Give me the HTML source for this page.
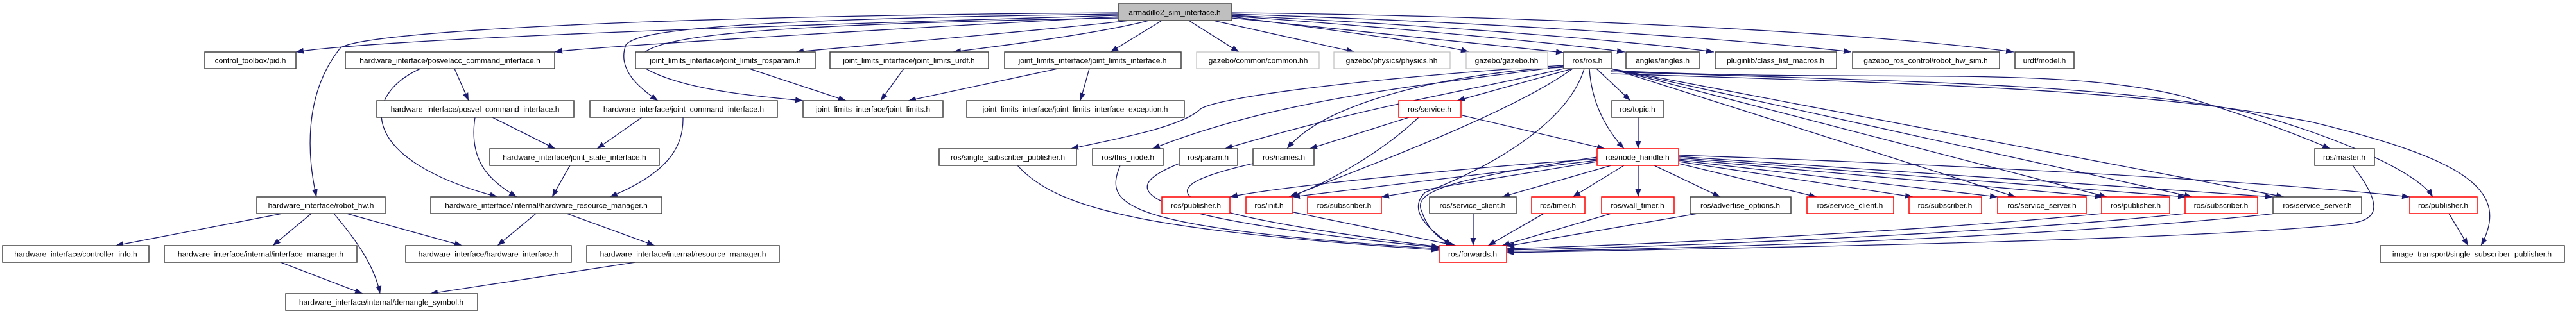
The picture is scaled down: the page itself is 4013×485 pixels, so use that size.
<!DOCTYPE html>
<html><head><meta charset="utf-8"><style>
html,body{margin:0;padding:0;background:#fff;}
svg{display:block;}
text{font-family:"Liberation Sans",sans-serif;font-size:12px;fill:#000;}
.n{fill:#fff;stroke:#404040;stroke-width:1.5;}
.r{fill:#fff;stroke:#f00;stroke-width:1.5;}
.g{fill:#fff;stroke:#bfbfbf;stroke-width:1.2;}
.e{fill:none;stroke:#191970;stroke-width:1.3;marker-end:url(#a);}
</style></head><body>
<svg width="4013" height="485" viewBox="0 0 4013 485" xmlns="http://www.w3.org/2000/svg">
<defs><marker id="a" markerUnits="userSpaceOnUse" markerWidth="12" markerHeight="9" refX="12" refY="4.5" orient="auto"><path d="M0,0 L12,4.5 L0,9 z" fill="#191970"/></marker></defs>
<g>
<path class="e" d="M1742,24 C1200,40 600,60 461,81"/>
<path class="e" d="M1742,26 C1300,50 900,75 864,81"/>
<path class="e" d="M1742,20 C1000,25 560,50 530,75 C470,150 480,250 493,307"/>
<path class="e" d="M1742,22 C1100,30 990,50 975,70 C960,110 1000,140 1025,157"/>
<path class="e" d="M1742,28 C1100,40 990,60 995,100 C1050,140 1180,150 1251,157"/>
<path class="e" d="M1760,32 C1600,50 1300,75 1240,81"/>
<path class="e" d="M1790,32 C1700,55 1530,75 1485,81"/>
<path class="e" d="M1810,32 L1730,81"/>
<path class="e" d="M1852,32 L1930,81"/>
<path class="e" d="M1890,32 L2110,81"/>
<path class="e" d="M1919,26 C2100,50 2250,70 2288,81"/>
<path class="e" d="M1919,28 L2436,82"/>
<path class="e" d="M1919,25 C2200,45 2450,70 2531,81"/>
<path class="e" d="M1919,24 C2250,40 2550,65 2670,81"/>
<path class="e" d="M1919,22 C2350,35 2750,65 2884,81"/>
<path class="e" d="M1919,20 C2400,25 2900,50 3137,81"/>
<path class="e" d="M2450,107 L2270,157"/>
<path class="e" d="M2487,107 L2540,157"/>
<path class="e" d="M2476,107 C2480,170 2510,210 2530,232"/>
<path class="e" d="M2436,105 C2300,110 2070,150 2005,232"/>
<path class="e" d="M2436,107 C2300,140 2150,160 1908,232"/>
<path class="e" d="M2436,103 C2250,130 2000,150 1795,232"/>
<path class="e" d="M2436,102 C2150,120 1900,150 1870,170 C1840,200 1720,220 1668,232"/>
<path class="e" d="M2468,107 C2440,200 2300,270 2220,300 C2190,330 2230,360 2262,383"/>
<path class="e" d="M2450,107 C2350,180 2100,270 2010,307"/>
<path class="e" d="M2510,107 L3140,307"/>
<path class="e" d="M2510,107 L3282,307"/>
<path class="e" d="M2510,107 L3415,307"/>
<path class="e" d="M2510,107 L3558,307"/>
<path class="e" d="M2510,110 C2900,130 3200,100 3400,150 C3500,180 3580,210 3630,232"/>
<path class="e" d="M2510,112 C2900,125 3300,130 3500,175 C3600,200 3760,260 3790,307"/>
<path class="e" d="M2510,115 C3000,130 3350,140 3600,190 C3850,250 3910,300 3865,383"/>
<path class="e" d="M2195,183 L2040,232"/>
<path class="e" d="M2278,180 L2500,232"/>
<path class="e" d="M2210,183 C2150,240 2060,290 2008,307"/>
<path class="e" d="M2552,183 L2552,232"/>
<path class="e" d="M2488,248 C2300,260 2000,290 1916,307"/>
<path class="e" d="M2488,250 L2013,307"/>
<path class="e" d="M2488,252 L2152,307"/>
<path class="e" d="M2510,258 L2340,307"/>
<path class="e" d="M2530,258 L2450,307"/>
<path class="e" d="M2552,258 L2552,307"/>
<path class="e" d="M2577,258 L2680,307"/>
<path class="e" d="M2615,255 L2830,307"/>
<path class="e" d="M2615,252 L2980,307"/>
<path class="e" d="M2615,250 L3112,307"/>
<path class="e" d="M2615,248 L3276,307"/>
<path class="e" d="M2615,246 L3405,307"/>
<path class="e" d="M2615,244 L3541,307"/>
<path class="e" d="M2615,242 C3000,255 3500,280 3754,307"/>
<path class="e" d="M2488,245 C2250,280 2200,300 2215,330 C2225,360 2245,375 2265,383"/>
<path class="e" d="M2010,330 L2268,383"/>
<path class="e" d="M2295,333 L2295,383"/>
<path class="e" d="M2405,333 L2318,383"/>
<path class="e" d="M2510,333 L2340,383"/>
<path class="e" d="M2645,333 L2347,384"/>
<path class="e" d="M3275,333 C3000,360 2600,380 2347,388"/>
<path class="e" d="M3405,333 C3100,365 2600,385 2347,390"/>
<path class="e" d="M3545,333 C3200,370 2650,388 2347,392"/>
<path class="e" d="M3665,258 C3720,330 3700,345 3650,350 C3400,375 2800,385 2347,394"/>
<path class="e" d="M1585,258 C1650,330 1800,360 2242,390"/>
<path class="e" d="M1745,258 C1720,320 1740,355 2242,388"/>
<path class="e" d="M1837,255 C1750,290 1720,335 2242,386"/>
<path class="e" d="M1952,255 C1800,290 1760,325 2242,385"/>
<path class="e" d="M3815,333 L3845,383"/>
<path class="e" d="M708,107 L730,157"/>
<path class="e" d="M655,107 C560,150 560,250 775,307"/>
<path class="e" d="M767,183 L865,232"/>
<path class="e" d="M740,183 C730,250 760,280 805,307"/>
<path class="e" d="M1000,183 L930,232"/>
<path class="e" d="M1064,183 C1065,230 1040,270 950,307"/>
<path class="e" d="M888,258 L860,307"/>
<path class="e" d="M835,333 L775,383"/>
<path class="e" d="M883,333 L1020,383"/>
<path class="e" d="M440,333 L180,383"/>
<path class="e" d="M485,333 L425,383"/>
<path class="e" d="M540,333 L720,383"/>
<path class="e" d="M520,333 C560,380 585,420 592,458"/>
<path class="e" d="M437,409 L565,458"/>
<path class="e" d="M990,409 L670,458"/>
<path class="e" d="M1167,107 L1318,157"/>
<path class="e" d="M1408,107 L1372,157"/>
<path class="e" d="M1648,107 L1415,157"/>
<path class="e" d="M1697,107 L1683,157"/>
</g>
<g>
<rect x="1742" y="6" width="177" height="26" fill="#bfbfbf" stroke="#404040" stroke-width="1.5"/><text x="1830" y="23.5" text-anchor="middle">armadillo2_sim_interface.h</text>
<rect class="n" x="319" y="81" width="142" height="26"/><text x="390" y="98.5" text-anchor="middle">control_toolbox/pid.h</text>
<rect class="n" x="538" y="81" width="326" height="26"/><text x="701" y="98.5" text-anchor="middle">hardware_interface/posvelacc_command_interface.h</text>
<rect class="n" x="990" y="81" width="280" height="26"/><text x="1130" y="98.5" text-anchor="middle">joint_limits_interface/joint_limits_rosparam.h</text>
<rect class="n" x="1293" y="81" width="247" height="26"/><text x="1416" y="98.5" text-anchor="middle">joint_limits_interface/joint_limits_urdf.h</text>
<rect class="n" x="1565" y="81" width="275" height="26"/><text x="1702" y="98.5" text-anchor="middle">joint_limits_interface/joint_limits_interface.h</text>
<rect class="g" x="1864" y="81" width="191" height="26"/><text x="1960" y="98.5" text-anchor="middle">gazebo/common/common.hh</text>
<rect class="g" x="2078" y="81" width="181" height="26"/><text x="2168" y="98.5" text-anchor="middle">gazebo/physics/physics.hh</text>
<rect class="g" x="2284" y="81" width="127" height="26"/><text x="2347" y="98.5" text-anchor="middle">gazebo/gazebo.hh</text>
<rect class="n" x="2436" y="81" width="74" height="26"/><text x="2473" y="98.5" text-anchor="middle">ros/ros.h</text>
<rect class="n" x="2533" y="81" width="114" height="26"/><text x="2590" y="98.5" text-anchor="middle">angles/angles.h</text>
<rect class="n" x="2672" y="81" width="189" height="26"/><text x="2766" y="98.5" text-anchor="middle">pluginlib/class_list_macros.h</text>
<rect class="n" x="2886" y="81" width="229" height="26"/><text x="3000" y="98.5" text-anchor="middle">gazebo_ros_control/robot_hw_sim.h</text>
<rect class="n" x="3139" y="81" width="92" height="26"/><text x="3185" y="98.5" text-anchor="middle">urdf/model.h</text>

<rect class="n" x="587" y="157" width="307" height="26"/><text x="740" y="174.5" text-anchor="middle">hardware_interface/posvel_command_interface.h</text>
<rect class="n" x="919" y="157" width="292" height="26"/><text x="1065" y="174.5" text-anchor="middle">hardware_interface/joint_command_interface.h</text>
<rect class="n" x="1251" y="157" width="218" height="26"/><text x="1360" y="174.5" text-anchor="middle">joint_limits_interface/joint_limits.h</text>
<rect class="n" x="1506" y="157" width="339" height="26"/><text x="1675" y="174.5" text-anchor="middle">joint_limits_interface/joint_limits_interface_exception.h</text>
<rect class="r" x="2179" y="157" width="97" height="26"/><text x="2227" y="174.5" text-anchor="middle">ros/service.h</text>
<rect class="n" x="2511" y="157" width="81" height="26"/><text x="2551" y="174.5" text-anchor="middle">ros/topic.h</text>

<rect class="n" x="763" y="232" width="264" height="26"/><text x="895" y="249.5" text-anchor="middle">hardware_interface/joint_state_interface.h</text>
<rect class="n" x="1463" y="232" width="214" height="26"/><text x="1570" y="249.5" text-anchor="middle">ros/single_subscriber_publisher.h</text>
<rect class="n" x="1702" y="232" width="110" height="26"/><text x="1757" y="249.5" text-anchor="middle">ros/this_node.h</text>
<rect class="n" x="1837" y="232" width="91" height="26"/><text x="1882" y="249.5" text-anchor="middle">ros/param.h</text>
<rect class="n" x="1952" y="232" width="95" height="26"/><text x="2000" y="249.5" text-anchor="middle">ros/names.h</text>
<rect class="r" x="2488" y="232" width="127" height="26"/><text x="2551" y="249.5" text-anchor="middle">ros/node_handle.h</text>
<rect class="n" x="3606" y="232" width="93" height="26"/><text x="3652" y="249.5" text-anchor="middle">ros/master.h</text>

<rect class="n" x="400" y="307" width="200" height="26"/><text x="500" y="324.5" text-anchor="middle">hardware_interface/robot_hw.h</text>
<rect class="n" x="671" y="307" width="360" height="26"/><text x="851" y="324.5" text-anchor="middle">hardware_interface/internal/hardware_resource_manager.h</text>
<rect class="r" x="1810" y="307" width="106" height="26"/><text x="1863" y="324.5" text-anchor="middle">ros/publisher.h</text>
<rect class="r" x="1941" y="307" width="72" height="26"/><text x="1977" y="324.5" text-anchor="middle">ros/init.h</text>
<rect class="r" x="2037" y="307" width="115" height="26"/><text x="2094" y="324.5" text-anchor="middle">ros/subscriber.h</text>
<rect class="n" x="2227" y="307" width="135" height="26"/><text x="2294" y="324.5" text-anchor="middle">ros/service_client.h</text>
<rect class="r" x="2386" y="307" width="83" height="26"/><text x="2427" y="324.5" text-anchor="middle">ros/timer.h</text>
<rect class="r" x="2495" y="307" width="113" height="26"/><text x="2551" y="324.5" text-anchor="middle">ros/wall_timer.h</text>
<rect class="n" x="2633" y="307" width="157" height="26"/><text x="2711" y="324.5" text-anchor="middle">ros/advertise_options.h</text>
<rect class="r" x="2815" y="307" width="135" height="26"/><text x="2882" y="324.5" text-anchor="middle">ros/service_client.h</text>
<rect class="r" x="2974" y="307" width="113" height="26"/><text x="3030" y="324.5" text-anchor="middle">ros/subscriber.h</text>
<rect class="r" x="3112" y="307" width="138" height="26"/><text x="3181" y="324.5" text-anchor="middle">ros/service_server.h</text>
<rect class="r" x="3274" y="307" width="106" height="26"/><text x="3327" y="324.5" text-anchor="middle">ros/publisher.h</text>
<rect class="r" x="3404" y="307" width="113" height="26"/><text x="3460" y="324.5" text-anchor="middle">ros/subscriber.h</text>
<rect class="n" x="3541" y="307" width="138" height="26"/><text x="3610" y="324.5" text-anchor="middle">ros/service_server.h</text>
<rect class="r" x="3754" y="307" width="105" height="26"/><text x="3806" y="324.5" text-anchor="middle">ros/publisher.h</text>

<rect class="n" x="4" y="383" width="228" height="26"/><text x="118" y="400.5" text-anchor="middle">hardware_interface/controller_info.h</text>
<rect class="n" x="256" y="383" width="300" height="26"/><text x="406" y="400.5" text-anchor="middle">hardware_interface/internal/interface_manager.h</text>
<rect class="n" x="632" y="383" width="258" height="26"/><text x="761" y="400.5" text-anchor="middle">hardware_interface/hardware_interface.h</text>
<rect class="n" x="914" y="383" width="300" height="26"/><text x="1064" y="400.5" text-anchor="middle">hardware_interface/internal/resource_manager.h</text>
<rect class="r" x="2242" y="383" width="105" height="26"/><text x="2294" y="400.5" text-anchor="middle">ros/forwards.h</text>
<rect class="n" x="3708" y="383" width="287" height="26"/><text x="3851" y="400.5" text-anchor="middle">image_transport/single_subscriber_publisher.h</text>

<rect class="n" x="445" y="458" width="299" height="26"/><text x="594" y="475.5" text-anchor="middle">hardware_interface/internal/demangle_symbol.h</text>
</g>
</svg>
</body></html>
